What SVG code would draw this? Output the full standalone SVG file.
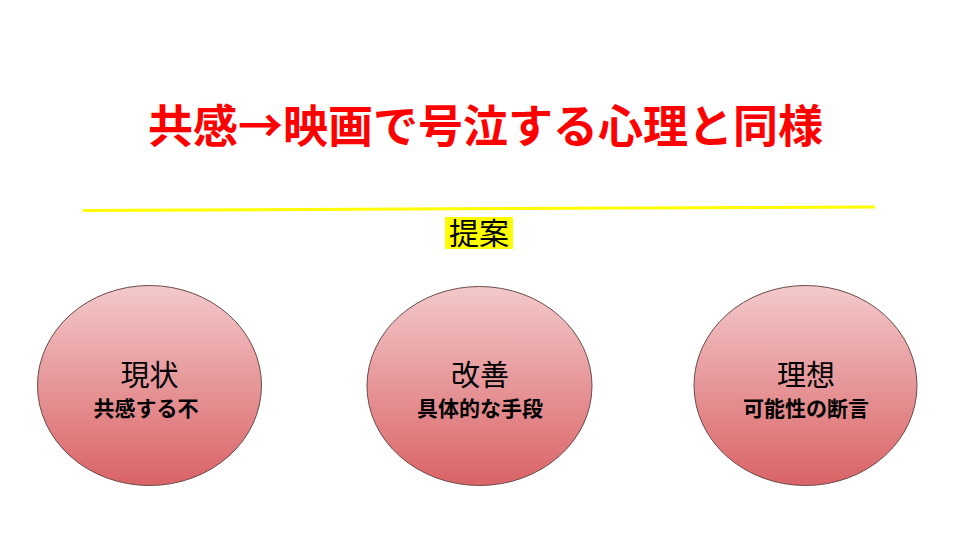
<svg xmlns="http://www.w3.org/2000/svg" width="960" height="540" viewBox="0 0 960 540">
<defs>
<linearGradient id="g" x1="0" y1="0" x2="0" y2="1">
<stop offset="0" stop-color="#f3c9cb"/>
<stop offset="1" stop-color="#da6366"/>
</linearGradient>
<style>
.jp{font-family:"Noto Sans CJK JP","Noto Sans CJK SC",sans-serif;}
.title{font-size:45px;font-weight:bold;fill:#ff0000;}
.node ellipse{fill:url(#g);stroke:#6b4a4a;stroke-width:1;}
.main{font-size:29px;fill:#000;text-anchor:middle;}
.sub{font-size:21px;font-weight:bold;fill:#000;text-anchor:middle;}
</style>
</defs>
<rect width="960" height="540" fill="#ffffff"/>
<text class="jp title" x="485.5" y="143" text-anchor="middle" textLength="675" lengthAdjust="spacingAndGlyphs">共感→映画で号泣する心理と同様</text>
<line x1="83" y1="210.5" x2="875" y2="207" stroke="#ffff00" stroke-width="3"/>
<rect x="445" y="217" width="68" height="32" fill="#ffff00"/>
<text class="jp" x="479" y="244" font-size="30" text-anchor="middle" fill="#000">提案</text>
<g id="connectors"></g>
<g id="node1" class="node">
<ellipse cx="149.5" cy="385.5" rx="112" ry="100"/>
<text class="jp main" x="149.5" y="386">現状</text>
<text class="jp sub" x="146" y="416">共感する不</text>
</g>
<g id="node2" class="node">
<ellipse cx="479.5" cy="386" rx="112.5" ry="99.5"/>
<text class="jp main" x="480" y="386">改善</text>
<text class="jp sub" x="480" y="416">具体的な手段</text>
</g>
<g id="node3" class="node">
<ellipse cx="805.5" cy="385.5" rx="111.5" ry="100"/>
<text class="jp main" x="806" y="386">理想</text>
<text class="jp sub" x="806" y="416">可能性の断言</text>
</g>
</svg>
